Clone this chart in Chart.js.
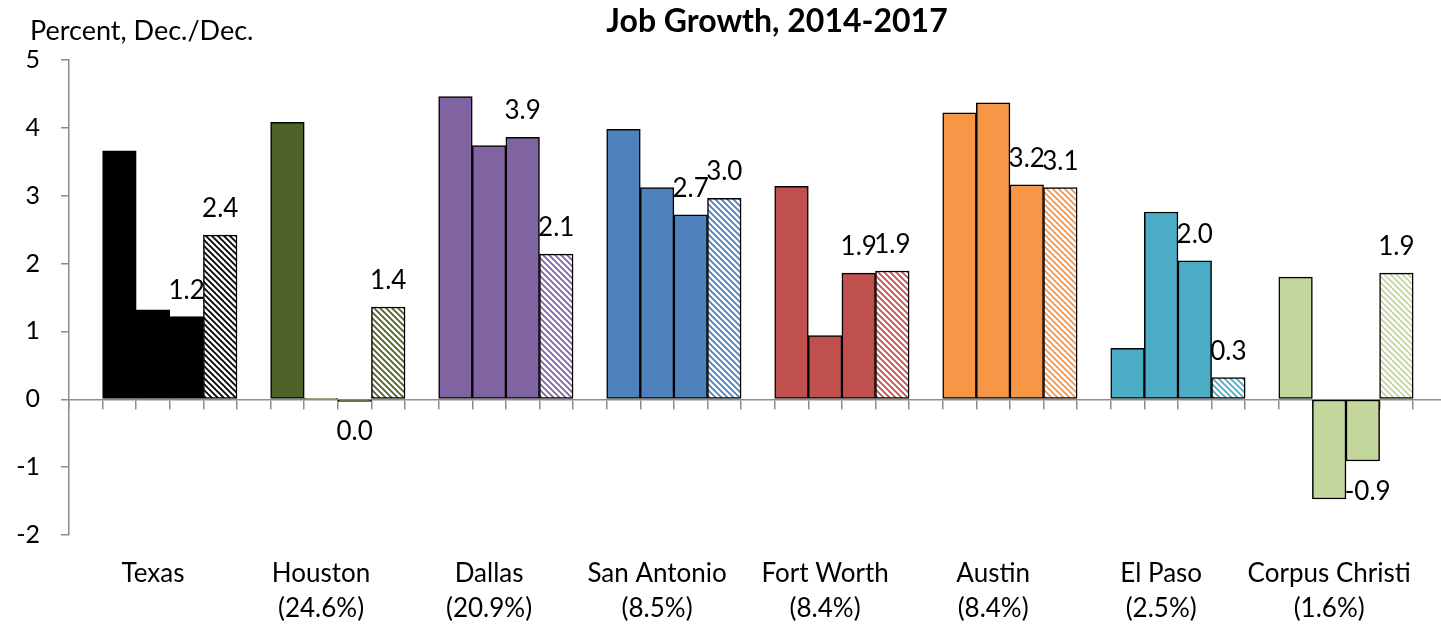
<!DOCTYPE html>
<html>
<head>
<meta charset="utf-8">
<title>Job Growth, 2014-2017</title>
<script src="https://cdn.jsdelivr.net/npm/chart.js@4.4.1/dist/chart.umd.min.js"></script>
<style>
  html, body { margin: 0; padding: 0; background: #fff; overflow: hidden; }
  #wrap { width: 1451px; height: 625px; }
</style>
</head>
<body>
<div id="wrap"><canvas id="jobChart"></canvas></div>
<script>
/* ----------- Data ----------- */
const regions = ['Texas', 'Houston', 'Dallas', 'San Antonio', 'Fort Worth', 'Austin', 'El Paso', 'Corpus Christi'];
const shares = ['', '(24.6%)', '(20.9%)', '(8.5%)', '(8.4%)', '(8.4%)', '(2.5%)', '(1.6%)'];
const years = ['2014', '2015', '2016', '2017'];
const growth2014 = [3.66, 4.08, 4.46, 3.98, 3.14, 4.22, 0.75, 1.80];
const growth2015 = [1.32, 0.01, 3.74, 3.12, 0.94, 4.37, 2.76, -1.47];
const growth2016 = [1.22, -0.03, 3.86, 2.72, 1.86, 3.16, 2.04, -0.91];
const growth2017 = [2.42, 1.36, 2.14, 2.96, 1.89, 3.12, 0.32, 1.86];
const regionColors = ['#000000', '#4F6228', '#8064A2', '#4F81BD', '#C0504D', '#F79646', '#4BACC6', '#C3D69B'];

const TITLE = 'Job Growth, 2014-2017';
const Y_TITLE = 'Percent, Dec./Dec.';

/* ----------- Slots: one blank + 4 bars per region, one trailing blank ----------- */
const slotCount = regions.length * 5 + 1;
const slotLabels = [];
for (let i = 0; i < slotCount; i++) {
    const g = Math.floor(i / 5);
    if (i % 5 === 2 && g < regions.length) {
        slotLabels.push(shares[g] ? [regions[g], shares[g]] : [regions[g]]);
    } else {
        slotLabels.push('');
    }
}

function makeHatch(color){
    const c = document.createElement('canvas');
    c.width = 6; c.height = 6;
    const ctx = c.getContext('2d');
    ctx.fillStyle = '#fff';
    ctx.fillRect(0, 0, 6, 6);
    ctx.strokeStyle = color;
    ctx.lineWidth = 1.8;
    ctx.beginPath();
    ctx.moveTo(-1, -1); ctx.lineTo(7, 7);
    ctx.moveTo(-1, 5); ctx.lineTo(1, 7);
    ctx.moveTo(5, -1); ctx.lineTo(7, 1);
    ctx.stroke();
    return ctx.createPattern(c, 'repeat');
}

function buildDataset(series, k){
    const data = new Array(slotCount).fill(null);
    const colors = new Array(slotCount).fill('#fff');
    series.forEach((v, g) => {
        data[g * 5 + 1 + k] = v;
        colors[g * 5 + 1 + k] = k === 3 ? makeHatch(regionColors[g]) : regionColors[g];
    });
    return {
        label: years[k],
        data: data,
        backgroundColor: colors,
        borderColor: '#000',
        borderWidth: 1.5,
        borderSkipped: false
    };
}

const allSeries = [growth2014, growth2015, growth2016, growth2017];

/* ----------- Plugins: value labels + titles ----------- */
const valueLabels = {
    id: 'valueLabels',
    afterDatasetsDraw(chart){
        const ctx = chart.ctx;
        ctx.save();
        ctx.font = '26px Lato';
        ctx.fillStyle = '#000';
        ctx.textAlign = 'center';
        ctx.textBaseline = 'alphabetic';
        [2, 3].forEach(di => {
            const meta = chart.getDatasetMeta(di);
            const data = chart.data.datasets[di].data;
            meta.data.forEach((bar, i) => {
                const v = data[i];
                if (v === null) return;
                const txt = Math.abs(v) < 0.05 ? '0.0' : v.toFixed(1);
                // keep the number itself centred on the bar, minus sign hangs left
                const shift = txt[0] === '-' ? ctx.measureText('-').width / 2 : 0;
                const y = v >= 0 ? bar.y - 18 : bar.y + 39;
                ctx.fillText(txt, bar.x + shift, y);
            });
        });
        ctx.restore();
    }
};

const titles = {
    id: 'titles',
    afterDraw(chart){
        const ctx = chart.ctx;
        ctx.save();
        ctx.fillStyle = '#000';
        ctx.textBaseline = 'alphabetic';
        ctx.font = 'bold 32px Lato';
        ctx.textAlign = 'center';
        ctx.fillText(TITLE, 777, 32);
        ctx.font = '27px Lato';
        ctx.textAlign = 'left';
        ctx.fillText(Y_TITLE, 30, 40);
        ctx.restore();
    }
};

/* ----------- Chart ----------- */
new Chart(document.getElementById('jobChart'), {
    type: 'bar',
    data: {
        labels: slotLabels,
        datasets: allSeries.map((s, k) => buildDataset(s, k))
    },
    options: {
        responsive: true,
        maintainAspectRatio: false,
        animation: false,
        layout: { padding: { top: 60, right: 0, bottom: 0, left: 0 } },
        datasets: { bar: { grouped: false, barPercentage: 1, categoryPercentage: 1 } },
        plugins: {
            legend: { display: false },
            tooltip: { enabled: false }
        },
        scales: {
            x: {
                type: 'category',
                position: { y: 0 },
                offset: true,
                grid: { offset: true, drawOnChartArea: false, drawTicks: true, tickLength: 9, color: '#8c8c8c', lineWidth: 1.5 },
                border: { color: '#8c8c8c', width: 1.5 },
                ticks: { display: false }
            },
            x2: {
                type: 'category',
                position: 'bottom',
                offset: true,
                grid: { display: false, drawTicks: false },
                border: { display: false },
                ticks: {
                    autoSkip: false, maxRotation: 0, minRotation: 0, padding: 21,
                    color: '#000', font: { family: 'Lato', size: 26, lineHeight: 1.35 }
                },
                afterFit(s){ s.height = 90; }
            },
            y: {
                min: -2,
                max: 5,
                ticks: { stepSize: 1, padding: 21, color: '#000', font: { family: 'Lato', size: 25 } },
                grid: { drawOnChartArea: false, drawTicks: true, tickLength: 8, color: '#8c8c8c', lineWidth: 1.5 },
                border: { color: '#8c8c8c', width: 1.5 },
                afterFit(s){ s.width = 69; }
            }
        }
    },
    plugins: [valueLabels, titles]
});
</script>
</body>
</html>
